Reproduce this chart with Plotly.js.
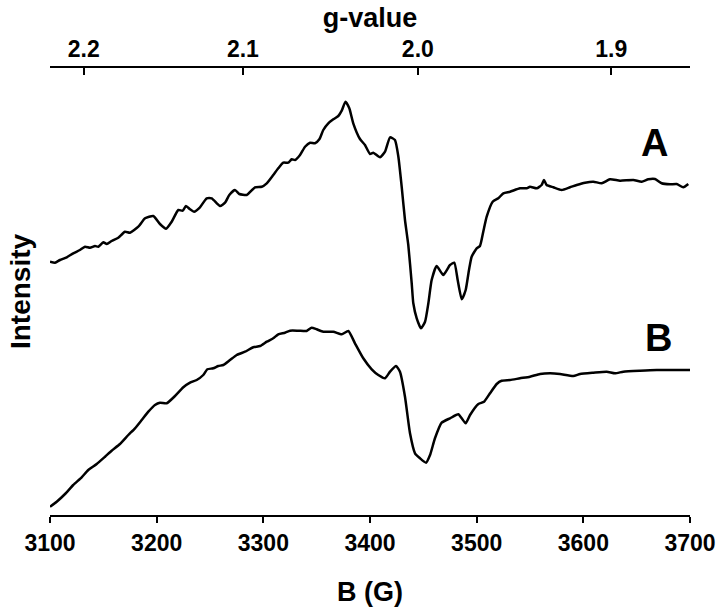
<!DOCTYPE html>
<html>
<head>
<meta charset="utf-8">
<script src="https://cdn.plot.ly/plotly-3.0.1.min.js"></script>
<style>html,body{margin:0;padding:0;background:#fff;}#chart{width:719px;height:610px;}</style>
</head>
<body>
<div id="chart"></div>
<script>
// Magnetic field (G) and intensity (arb. units) for spectrum A
const fieldA = [3100,3104.7,3109.4,3115.7,3121.8,3128.1,3132.8,3137.5,3142.2,3145.3,3150,3153.2,3157.8,3164,3170.3,3175,3182.8,3189.1,3196.8,3203.1,3208.8,3214.1,3220.3,3224.4,3227.5,3231.3,3235,3240.6,3246.9,3251.6,3259.4,3264.1,3268.1,3273.4,3277.5,3284.4,3292.2,3298.5,3303.2,3309.3,3314,3318.7,3323.4,3326.6,3329.7,3334.4,3339.1,3343.8,3348.4,3352.5,3356.2,3360.9,3365.6,3370.3,3373.5,3377,3380.6,3384.3,3390.6,3395.3,3400,3403.1,3409.4,3414.1,3418.8,3423.4,3426.6,3429.7,3432.8,3435.9,3439.1,3440.6,3443.8,3447.8,3451.6,3454.7,3457.8,3462.5,3468.7,3475,3479,3482.2,3486,3489.7,3492.8,3495.3,3500,3503.1,3506.2,3509.4,3515,3520.3,3525,3531.3,3540.6,3546.9,3550,3556.3,3560.9,3563.1,3565.6,3571.9,3579.7,3587.5,3593.8,3601.6,3609.4,3617.2,3625,3634.4,3646.9,3654.7,3660.9,3667.2,3673.4,3681.3,3687.5,3693.7,3698.4];
const intensityA = [253.3,252.3,255,257.7,261.7,265,268.3,267.3,269,268.3,272.7,271,274,277.3,283.3,282.3,288.3,296.7,299,291,286.3,293.3,305,304.3,309,305.7,303.3,307.7,316.7,316.7,309,312.3,320,325,321,320,327.7,328.3,331.7,340,346.7,352.3,352.3,355.7,355,360,368.3,372.3,371.7,375.7,385,391.7,395.7,399,404.3,413.3,406.7,391.7,376,370,361,362.3,357.7,363.3,377.7,375,358.3,328.3,295,270,231.7,211.7,196.7,186.7,193.3,211.7,235,249,240,250,252.3,235,215.7,225,245,258.3,266.7,269,283.3,298.3,313.3,316.7,321.7,323.3,326.7,326.7,328.3,326.7,330,335,330,327.7,325,327.7,330,332.3,333.3,331.7,335.7,334.3,335,333.3,335.7,336,331.7,330.7,331,327.7,331];

// Magnetic field (G) and intensity (arb. units) for spectrum B
const fieldB = [3100,3106.3,3114.1,3121.8,3129.7,3135.9,3143.8,3151.6,3157.8,3165.6,3173.4,3179.7,3186,3192.2,3198.4,3203.1,3209.4,3217.2,3225,3231.3,3237.5,3243.7,3247.5,3253.1,3257.8,3262.5,3268.8,3275,3282.8,3290.6,3296.9,3303.2,3309.3,3314,3320.3,3325,3332.8,3340.6,3345.3,3350,3356.2,3365.6,3373.5,3379.7,3385.9,3393.7,3401.6,3407.8,3414.1,3418.8,3424.4,3428.1,3432.8,3437.5,3442.2,3446.9,3452.5,3456.3,3460.9,3467.2,3475,3482.8,3486,3489.7,3493.8,3501.6,3506.9,3512.5,3518.8,3523.4,3531.3,3540.6,3550,3559.4,3568.8,3578.1,3590.6,3596.9,3609.4,3621.9,3629.7,3637.5,3653.1,3668.8,3684.4,3700];
const intensityB = [8.3,13.3,21,30,37.7,45,51,58.3,64.3,71,80,86.7,95,103.3,110,112.3,111.7,119,127.7,132.3,135,140,145.7,146.7,149,150,155,160,163.3,167.7,169,173.3,176.7,180.7,182.3,184.3,184.3,184,187.3,185.7,183.3,183.3,180.7,184,171.7,156.7,145.7,140,136.7,143.3,149,143.3,118.3,81.7,61.7,56.7,52.3,60,76.7,92.3,96.7,100.7,96.7,91.7,100,111,113.3,121.7,131,134.3,135,136.7,138.3,141,141.7,141,139,141,142.3,143.3,141.7,143.3,144.3,145,145,145];

// Top axis: g-values
const gTicks = [2.2, 2.1, 2.0, 1.9];
const gTickText = ['2.2', '2.1', '2.0', '1.9'];
const freqGHz = 9.643;               // microwave frequency
const hOverMuB = 714.477;            // G per GHz for g = 1
const gFieldPos = gTicks.map(g => hOverMuB * freqGHz / g);

const bTicks = [3100, 3200, 3300, 3400, 3500, 3600, 3700];
const seriesLabels = ['A', 'B'];
const labelField = [3667, 3670];
const labelIntensity = [372, 177];

const FONT = 'Liberation Sans, Arial, sans-serif';
const lineStyle = {color: '#000', width: 2.5, shape: 'spline', smoothing: 0.5};

const traces = [
  {x: fieldA, y: intensityA, type: 'scatter', mode: 'lines', line: lineStyle, name: 'A', showlegend: false, hoverinfo: 'skip'},
  {x: fieldB, y: intensityB, type: 'scatter', mode: 'lines', line: lineStyle, name: 'B', showlegend: false, hoverinfo: 'skip'}
];

const layout = {
  width: 719, height: 610,
  margin: {l: 50, r: 29, t: 68, b: 95, pad: 0},
  paper_bgcolor: '#fff', plot_bgcolor: '#fff',
  font: {family: FONT, color: '#000'},
  showlegend: false,
  xaxis: {
    range: [3100, 3700], tickvals: bTicks, ticktext: bTicks.map(String),
    showline: true, linecolor: '#000', linewidth: 2,
    ticks: 'outside', ticklen: 6, tickwidth: 2, tickcolor: '#000',
    showgrid: false, zeroline: false,
    tickfont: {family: FONT, size: 23, weight: 'bold', color: '#000'},
    title: {text: 'B (G)', font: {family: FONT, size: 27, weight: 'bold', color: '#000'}, standoff: 28}
  },
  xaxis2: {
    overlaying: 'x', side: 'top', anchor: 'y',
    range: [3100, 3700], tickmode: 'array', tickvals: gFieldPos, ticktext: gTickText,
    showline: true, linecolor: '#000', linewidth: 2,
    ticks: 'inside', ticklen: 7, tickwidth: 2, tickcolor: '#000',
    showgrid: false, zeroline: false,
    tickfont: {family: FONT, size: 23, weight: 'bold', color: '#000'},
    title: {text: 'g-value', font: {family: FONT, size: 27, weight: 'bold', color: '#000'}, standoff: 0}
  },
  yaxis: {
    range: [0, 447], showline: false, showticklabels: false, ticks: '',
    showgrid: false, zeroline: false,
    title: {text: 'Intensity', font: {family: FONT, size: 28, weight: 'bold', color: '#000'}, standoff: 10}
  },
  annotations: seriesLabels.map((t, i) => ({
    x: labelField[i], y: labelIntensity[i], xref: 'x', yref: 'y',
    text: t, showarrow: false, xanchor: 'center', yanchor: 'middle',
    font: {family: FONT, size: 38, weight: 'bold', color: '#000'}
  }))
};

// dummy trace so the top axis is bound to data
traces.push({x: [3100, 3700], y: [null, null], xaxis: 'x2', yaxis: 'y', mode: 'lines', showlegend: false, hoverinfo: 'skip'});

Plotly.newPlot('chart', traces, layout, {staticPlot: true, displayModeBar: false});
</script>
</body>
</html>
